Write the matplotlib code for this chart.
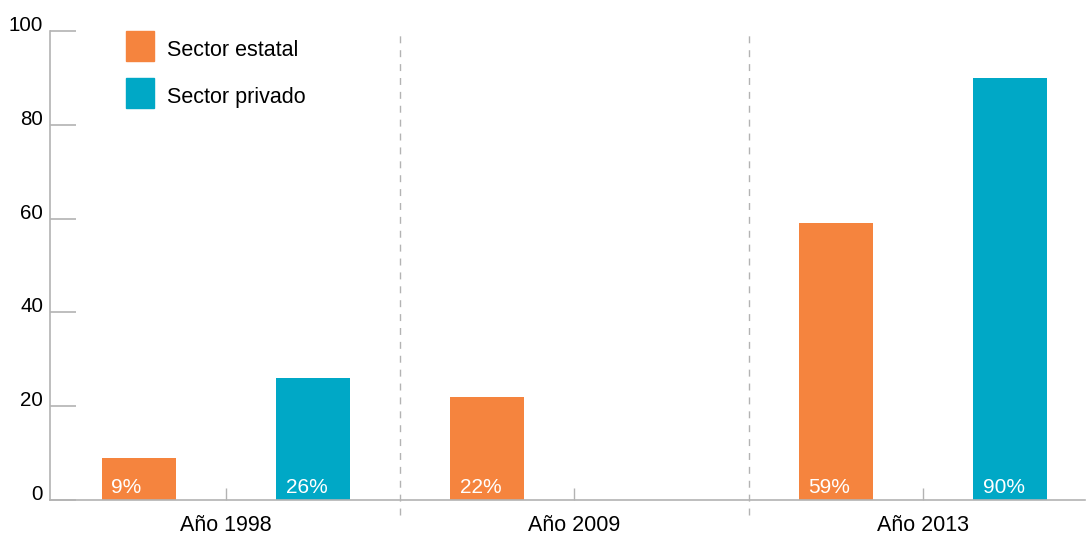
import numpy as np
import matplotlib
matplotlib.use('Agg')
import matplotlib.pyplot as plt
from matplotlib.patches import Rectangle

# datos
years = ['Año 1998', 'Año 2009', 'Año 2013']
estatal = [9, 22, 59]
privado = [26, np.nan, 90]
series_names = ['Sector estatal', 'Sector privado']
y_ticks = [0, 20, 40, 60, 80, 100]

ORANGE = '#f5843e'
TEAL = '#00a8c6'
GRAY = '#b3b3b3'

plt.rcParams['font.family'] = ['Liberation Sans', 'DejaVu Sans']

fig = plt.figure(figsize=(10.87, 5.35), dpi=100)
ax = fig.add_axes([50 / 1087, 1 - 500 / 535, 1035 / 1087, 469 / 535])

x = np.arange(len(years))
w = 0.212
off = 0.25
for vals, sign, color in [(estatal, -1, ORANGE), (privado, 1, TEAL)]:
    for xi, v in zip(x, vals):
        if np.isnan(v):
            continue
        ax.bar(xi + sign * off, v, width=w, color=color, zorder=2)
        ax.text(xi + sign * off - w / 2 + 0.027, 0.6, f"{v:.0f}%", color='white',
                fontsize=15, ha='left', va='bottom', zorder=3)

# separadores discontinuos
for xs in [0.5, 1.5]:
    ax.plot([xs, xs], [-3.3, 100], color=GRAY, lw=1, ls=(0, (5, 5)),
            clip_on=False, zorder=1)

ax.set_xlim(-0.505, 2.465)
ax.set_ylim(0, 100)

ax.set_xticks(x)
ax.set_xticklabels(years, fontsize=15.5)
ax.set_yticks(y_ticks)
ax.set_yticklabels([str(t) for t in y_ticks], fontsize=14.8)
for lab in ax.get_yticklabels():
    lab.set_verticalalignment('baseline')

ax.tick_params(axis='x', direction='in', length=8.6, width=1, color=GRAY, pad=11)
ax.tick_params(axis='y', direction='in', length=18.7, width=1.2, color=GRAY, pad=5)

for s in ['top', 'right']:
    ax.spines[s].set_visible(False)
for s in ['left', 'bottom']:
    ax.spines[s].set_color(GRAY)
    ax.spines[s].set_linewidth(1.2)

# leyenda manual
for i, (name, color) in enumerate(zip(series_names, [ORANGE, TEAL])):
    y0 = 1 - (61 + i * 47) / 535
    fig.patches.append(Rectangle((126 / 1087, y0), 28 / 1087, 30 / 535,
                                 transform=fig.transFigure, color=color))
    fig.text(167 / 1087, y0 + 11 / 535, name, fontsize=15.5, va='center', ha='left')

fig.savefig('out.png', dpi=100)
